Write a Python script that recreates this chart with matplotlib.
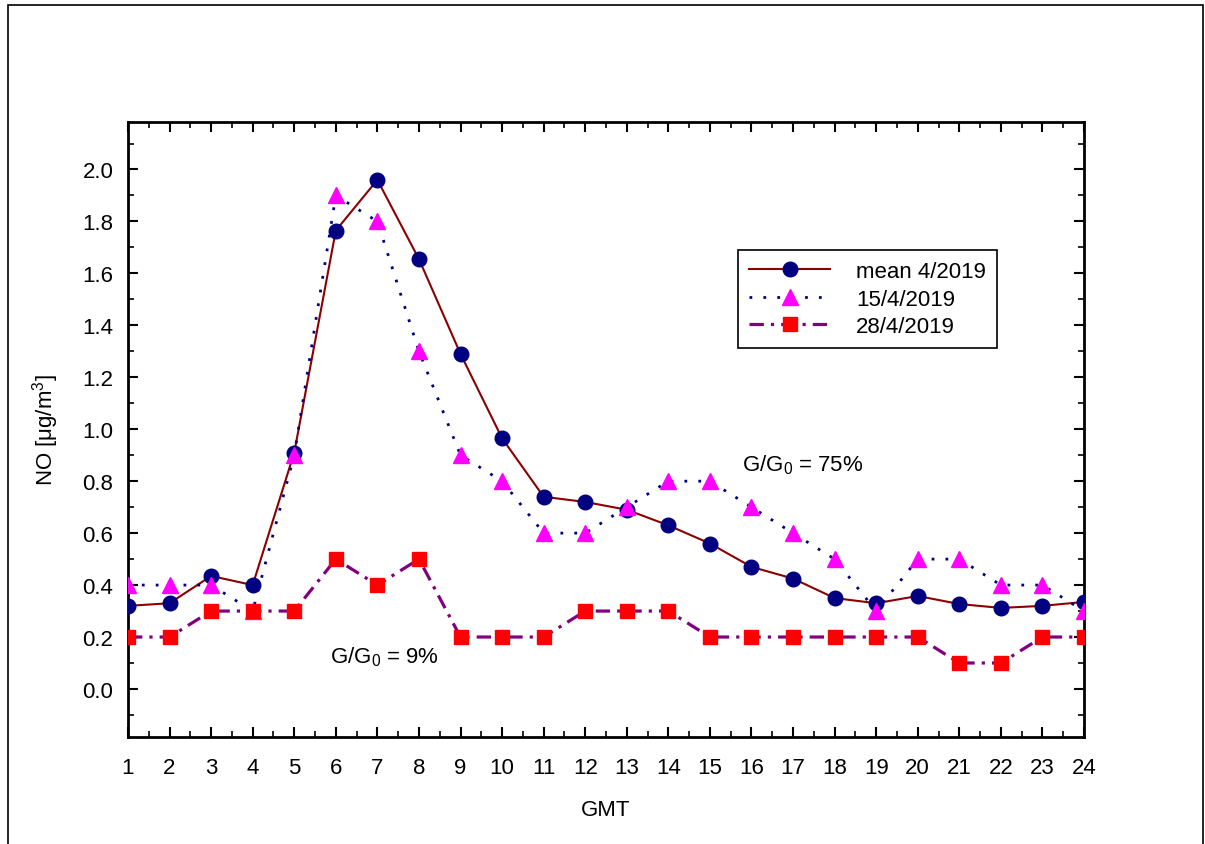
import numpy as np
import matplotlib.pyplot as plt
from matplotlib.ticker import MultipleLocator
from matplotlib.patches import Rectangle

plt.rcParams['font.family'] = ['Liberation Sans', 'DejaVu Sans']
plt.rcParams['mathtext.fontset'] = 'custom'
plt.rcParams['mathtext.rm'] = 'Liberation Sans'
plt.rcParams['mathtext.it'] = 'Liberation Sans'

# hourly NO concentrations
hours = list(range(1, 25))
no_mean = [0.32, 0.33, 0.435, 0.40, 0.91, 1.765, 1.96, 1.655, 1.29, 0.965,
           0.74, 0.72, 0.69, 0.63, 0.56, 0.47, 0.425, 0.35, 0.33, 0.358,
           0.327, 0.312, 0.32, 0.335]
no_15 = [0.4, 0.4, 0.4, 0.3, 0.9, 1.9, 1.8, 1.3, 0.9, 0.8, 0.6, 0.6,
         0.7, 0.8, 0.8, 0.7, 0.6, 0.5, 0.3, 0.5, 0.5, 0.4, 0.4, 0.3]
no_28 = [0.2, 0.2, 0.3, 0.3, 0.3, 0.5, 0.4, 0.5, 0.2, 0.2, 0.2, 0.3,
         0.3, 0.3, 0.2, 0.2, 0.2, 0.2, 0.2, 0.2, 0.1, 0.1, 0.2, 0.2]
labels = ['mean 4/2019', '15/4/2019', '28/4/2019']

FS = 16

fig = plt.figure(figsize=(12.05, 8.45), dpi=100)
ax = fig.add_axes([0.1062, 0.1263, 0.7934, 0.7285])

# outer frame (bottom edge is cut off in the original)
fig.patches.append(Rectangle((8 / 1205, -0.05), (1203 - 8) / 1205, 1 - 6 / 845 + 0.05,
                             transform=fig.transFigure, fill=False,
                             edgecolor='black', lw=1.2))

ax.plot(hours, no_mean, color='#8b0000', lw=1.5, marker='o', ms=10.5,
        mfc='#000080', mec='#000080', label=labels[0], zorder=3)
ax.plot(hours, no_15, color='#000080', lw=2, ls=(0, (1, 4)), marker='^', ms=11,
        mfc='#ff00ff', mec='#ff00ff', label=labels[1], zorder=4)
ax.plot(hours, no_28, color='#800080', lw=2.3, ls=(0, (4.5, 2.2, 1, 2.2)), marker='s', ms=10.5,
        mfc='#ff0000', mec='#ff0000', label=labels[2], zorder=5)

ax.set_xlim(1, 24)
ax.set_ylim(-0.186, 2.184)
ax.set_xticks(hours)
ax.set_yticks(np.arange(0, 2.01, 0.2))
ax.set_yticklabels(['%.1f' % v for v in np.arange(0, 2.01, 0.2)])
ax.xaxis.set_minor_locator(MultipleLocator(0.5))
ax.yaxis.set_minor_locator(MultipleLocator(0.1))
ax.tick_params(which='both', direction='in', top=True, right=True, labelsize=FS)
ax.tick_params(which='major', length=7, width=1.5)
ax.tick_params(which='minor', length=4.5, width=1.2)
ax.tick_params(axis='x', pad=14)
ax.tick_params(axis='y', pad=10.5)
for s in ax.spines.values():
    s.set_linewidth(2)

ax.set_xlabel('GMT', fontsize=FS)
ax.set_ylabel(r'NO [$\mu$g/m$^3$]', fontsize=FS)
ax.xaxis.set_label_coords(0.5, -0.100)
ax.yaxis.set_label_coords(-0.070, 0.5)

ax.text(15.78, 0.866, r'G/G$_0$ = 75%', fontsize=FS, va='center', ha='left')
ax.text(5.86, 0.127, r'G/G$_0$ = 9%', fontsize=FS, va='center', ha='left')

leg = ax.legend(loc='upper left', bbox_to_anchor=(0.638, 0.792), fontsize=FS,
                fancybox=False, frameon=True, edgecolor='black', framealpha=1,
                handlelength=3.65, handletextpad=1.17, labelspacing=0.3,
                borderpad=0.5, borderaxespad=0)
leg.get_frame().set_linewidth(1.2)

fig.savefig('out.png', dpi=100)
